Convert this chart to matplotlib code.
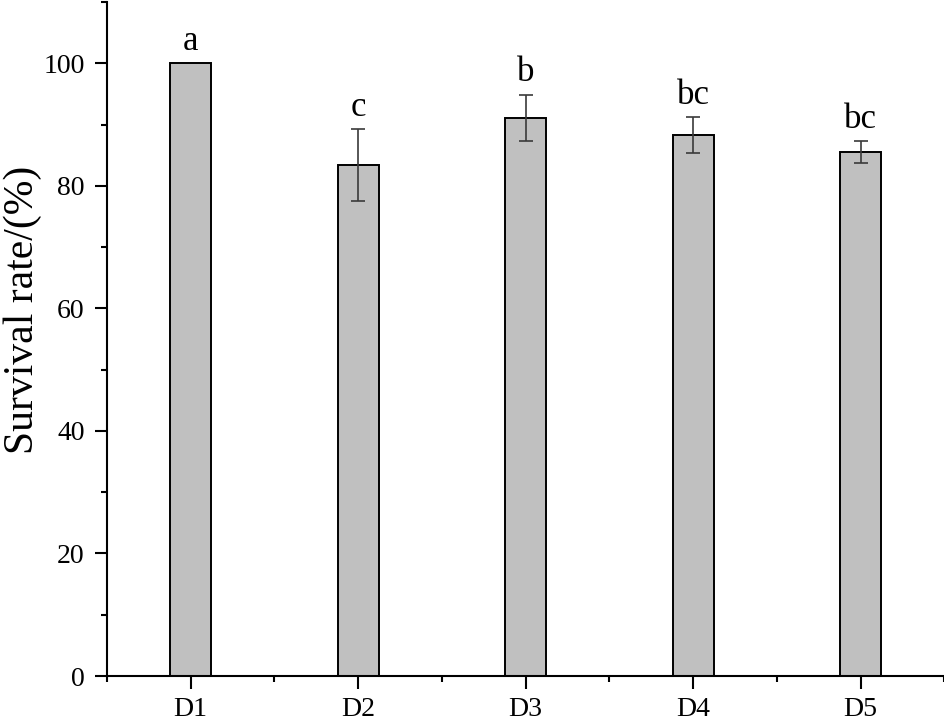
import numpy as np
import matplotlib.pyplot as plt
from matplotlib.ticker import MultipleLocator

groups = ["D1", "D2", "D3", "D4", "D5"]
survival = [100.0, 83.4, 91.1, 88.3, 85.5]
err = [0.0, 5.8, 3.8, 2.9, 1.8]
letters = ["a", "c", "b", "bc", "bc"]

plt.rcParams["font.family"] = ["Liberation Serif", "DejaVu Serif"]

fig = plt.figure(figsize=(9.45, 7.22), dpi=100)
ax = fig.add_axes([0.1132, 0.0637, 0.886, 0.9335])

x = np.arange(1, len(groups) + 1)
ax.bar(x, survival, width=0.245, color="#c0c0c0", edgecolor="black", linewidth=1.4, zorder=2)

# D1 has no spread, so only draw bars where there is an error
has_err = np.array(err) > 0
ax.errorbar(x[has_err], np.array(survival)[has_err], yerr=np.array(err)[has_err],
            fmt="none", ecolor="#3a3a3a", elinewidth=1.2,
            capsize=4.7, capthick=1.2, zorder=3)

for xi, yi, e, lab in zip(x, survival, err, letters):
    ax.annotate(lab, (xi, yi + e), xytext=(0, 4), textcoords="offset points",
                ha="center", va="bottom", fontsize=25)

ax.set_xlim(0.5, 5.5)
ax.set_ylim(0, 110)
ax.set_xticks(x)
ax.set_xticklabels(groups)
ax.xaxis.set_minor_locator(MultipleLocator(1.0, offset=0.5))
ax.yaxis.set_major_locator(MultipleLocator(20))
ax.yaxis.set_minor_locator(MultipleLocator(10))

for s in ["top", "right"]:
    ax.spines[s].set_visible(False)
for s in ["left", "bottom"]:
    ax.spines[s].set_linewidth(1.5)

ax.tick_params(axis="both", which="major", direction="out", length=9, width=1.5, labelsize=20)
ax.tick_params(axis="both", which="minor", direction="out", length=4.5, width=1.5)
ax.tick_params(axis="x", pad=6)
ax.tick_params(axis="y", pad=7)
ax.set_ylabel("Survival rate/(%)", fontsize=30)
ax.yaxis.set_label_coords(-0.078, 0.543)

fig.savefig("out.png", dpi=100)
